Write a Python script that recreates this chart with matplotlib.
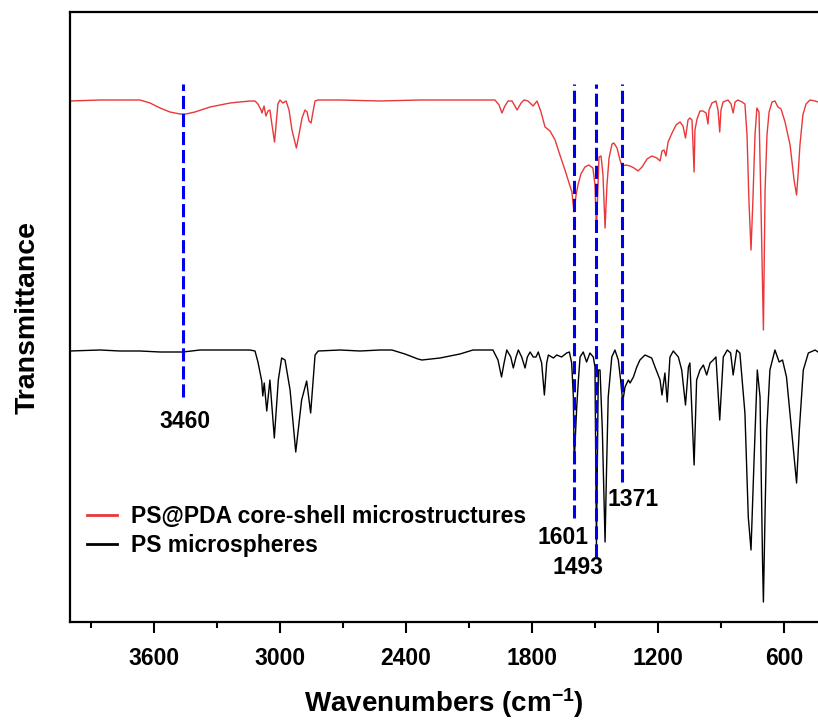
import numpy as np
import matplotlib
import matplotlib.pyplot as plt

matplotlib.use('Agg')

plt.rcParams['font.family'] = ['Liberation Sans', 'DejaVu Sans']
plt.rcParams['font.weight'] = 'bold'
plt.rcParams['mathtext.fontset'] = 'custom'
plt.rcParams['mathtext.rm'] = 'Liberation Sans:bold'
plt.rcParams['mathtext.bf'] = 'Liberation Sans:bold'
plt.rcParams['mathtext.default'] = 'bf'

# ------------------------ Data ------------------------
# wavenumber (cm^-1), transmittance (a.u., offset spectra)
pda_wn = [4000, 3857, 3762, 3667, 3619, 3571, 3524, 3476, 3448, 3405, 3333, 3238,
          3143, 3119, 3105, 3090, 3086, 3076, 3067, 3057, 3048, 3038, 3026, 3019,
          3010, 3000, 2986, 2971, 2957, 2943, 2922, 2910, 2895, 2881, 2871, 2862,
          2852, 2843, 2833, 2819, 2714, 2524, 2333, 2143, 1976, 1957, 1943, 1929,
          1914, 1895, 1871, 1852, 1838, 1819, 1795, 1776, 1757, 1738, 1714, 1690,
          1667, 1643, 1619, 1610, 1600, 1590, 1581, 1567, 1548, 1529, 1510, 1500,
          1493, 1488, 1481, 1471, 1462, 1452, 1443, 1433, 1419, 1410, 1395, 1381,
          1371, 1352, 1333, 1314, 1295, 1276, 1252, 1229, 1205, 1190, 1181, 1171,
          1162, 1152, 1133, 1114, 1095, 1081, 1069, 1057, 1048, 1038, 1028, 1024,
          1014, 1000, 986, 971, 967, 962, 957, 943, 924, 914, 906, 900,
          890, 867, 852, 842, 833, 819, 800, 786, 776, 767, 757, 748,
          738, 729, 719, 710, 698, 690, 681, 671, 657, 643, 629, 614,
          595, 571, 552, 540, 533, 524, 510, 495, 476, 452, 438]
pda_t = [521, 522, 522, 522, 519, 514, 510, 508, 508, 510, 515, 519,
         521, 521, 518, 512, 509, 516, 506, 511, 512, 497, 480, 497,
         518, 522, 519, 521, 512, 492, 474, 487, 504, 512, 510, 501,
         499, 510, 521, 522, 522, 521, 522, 522, 522, 517, 509, 516,
         521, 521, 512, 519, 522, 521, 516, 521, 510, 495, 491, 482,
         467, 452, 436, 430, 410, 427, 437, 448, 455, 457, 454, 437,
         392, 422, 465, 466, 447, 394, 437, 464, 478, 479, 474, 462,
         456, 457, 456, 454, 451, 455, 463, 466, 464, 461, 471, 472,
         466, 480, 489, 497, 500, 496, 484, 502, 504, 502, 450, 492,
         503, 511, 511, 509, 504, 498, 512, 519, 521, 512, 490, 512,
         520, 522, 518, 509, 520, 522, 520, 518, 487, 422, 372, 422,
         487, 514, 510, 422, 292, 432, 487, 510, 520, 521, 515, 513,
         500, 477, 442, 427, 447, 477, 507, 518, 522, 521, 520]

ps_wn = [4000, 3857, 3762, 3667, 3571, 3462, 3381, 3238, 3143, 3119, 3105, 3087,
         3082, 3075, 3063, 3048, 3027, 3008, 2992, 2976, 2952, 2925, 2897, 2873,
         2854, 2833, 2818, 2714, 2619, 2524, 2467, 2405, 2343, 2324, 2238, 2143,
         2081, 2000, 1986, 1962, 1945, 1933, 1920, 1901, 1889, 1876, 1865, 1849,
         1833, 1822, 1809, 1794, 1781, 1770, 1754, 1741, 1730, 1722, 1698, 1682,
         1659, 1635, 1622, 1611, 1603, 1599, 1592, 1587, 1579, 1571, 1556, 1540,
         1524, 1508, 1500, 1493, 1488, 1484, 1476, 1465, 1452, 1445, 1437, 1420,
         1405, 1389, 1378, 1368, 1357, 1341, 1333, 1317, 1301, 1286, 1262, 1230,
         1214, 1190, 1181, 1167, 1156, 1143, 1127, 1103, 1087, 1069, 1055, 1048,
         1028, 1016, 1000, 984, 968, 952, 937, 924, 906, 889, 870, 854,
         842, 825, 810, 786, 770, 757, 743, 727, 714, 702, 698, 690,
         682, 667, 643, 623, 607, 588, 564, 540, 527, 508, 484, 452, 438]
ps_t = [271, 272, 271, 271, 270, 270, 272, 272, 272, 271, 260, 241,
        226, 239, 211, 242, 184, 242, 264, 262, 232, 170, 222, 241,
        209, 267, 271, 272, 271, 272, 272, 268, 263, 262, 264, 268,
        272, 272, 272, 262, 245, 259, 272, 265, 254, 265, 272, 265,
        254, 265, 270, 265, 265, 270, 259, 227, 259, 267, 264, 267,
        265, 269, 270, 259, 225, 160, 192, 215, 242, 265, 270, 260,
        269, 265, 255, 77, 172, 252, 252, 192, 80, 152, 225, 265,
        272, 262, 242, 220, 235, 242, 239, 245, 255, 262, 267, 264,
        255, 242, 227, 249, 220, 265, 271, 265, 252, 217, 255, 259,
        157, 242, 252, 257, 247, 259, 262, 265, 202, 265, 272, 269,
        247, 272, 269, 209, 105, 72, 159, 252, 225, 59, 20, 110,
        192, 252, 272, 260, 262, 245, 192, 139, 192, 252, 269, 272, 270]

# marked bands
band_wn = [3460, 1601, 1493, 1371]
band_labels = ['3460', '1601', '1493', '1371']
band_top = [538, 538, 538, 538]
band_bottom = [225, 104, 65, 140]
label_pos = [(3452, 201), (1652, 84), (1581, 54), (1319, 123)]

# ---------------------------------- Plotting ------------------------------------
fig = plt.figure(figsize=(8.18, 7.24), dpi=100)
ax = fig.add_axes([70 / 818, 102 / 724, 1 - 70 / 818, 610 / 724])

ax.plot(pda_wn, pda_t, color='#e8383a', lw=1.0, label='PS@PDA core-shell microstructures')
ax.plot(ps_wn, ps_t, color='black', lw=1.0, label='PS microspheres')

for wn, y0, y1 in zip(band_wn, band_bottom, band_top):
    ax.plot([wn, wn], [y0, y1], color='#0000ee', lw=2.2, dashes=(4.3, 1.6))

for lab, (lx, ly) in zip(band_labels, label_pos):
    ax.text(lx, ly, lab, fontsize=16.5, fontweight='bold', ha='center', va='center')

ax.set_xlim(4000, 438)
ax.set_ylim(0, 610)

ax.set_xticks(np.arange(3600, 500, -600))
ax.set_xticks(np.arange(3900, 500, -600), minor=True)
ax.tick_params(axis='x', which='major', direction='out', length=8, width=1.5,
               labelsize=16.5, pad=10)
ax.tick_params(axis='x', which='minor', direction='out', length=4.5, width=1.5)
ax.set_yticks([])
for lbl in ax.get_xticklabels():
    lbl.set_fontweight('bold')

for side in ['left', 'bottom', 'top']:
    ax.spines[side].set_linewidth(1.6)
ax.spines['right'].set_visible(False)

ax.set_xlabel('Wavenumbers (cm$^{-1}$)', fontsize=20, fontweight='bold', labelpad=12)
ax.set_ylabel('Transmittance', fontsize=20.5, fontweight='bold', labelpad=21)

leg = ax.legend(loc='upper left', bbox_to_anchor=(17 / 748, 1 - 493 / 610), frameon=False,
                fontsize=16.5, handlelength=1.3, handletextpad=0.6, labelspacing=0.25,
                borderpad=0, borderaxespad=0)
for line in leg.get_lines():
    line.set_linewidth(2)
for t in leg.get_texts():
    t.set_fontweight('bold')

plt.savefig('out.png', dpi=100)
